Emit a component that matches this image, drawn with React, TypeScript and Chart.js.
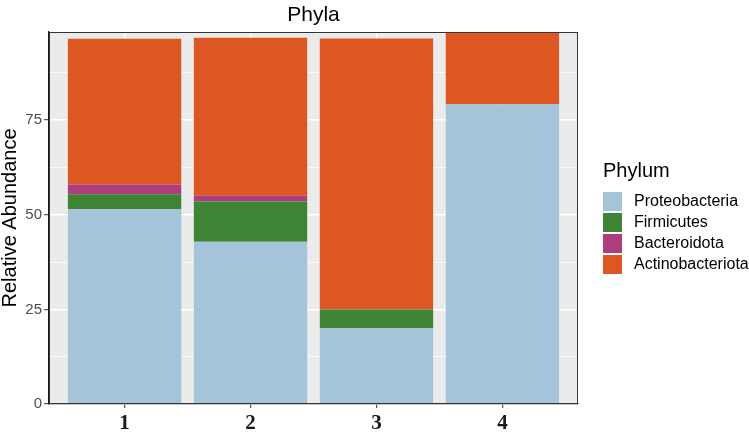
import React, { useEffect, useRef } from "react";
import { Chart, registerables } from "chart.js";

Chart.register(...registerables);

const categories = ["1", "2", "3", "4"];
const seriesNames = ["Proteobacteria", "Firmicutes", "Bacteroidota", "Actinobacteriota"];
const proteobacteria = [51.5, 42.9, 20.1, 79.2];
const firmicutes = [3.9, 10.6, 4.9, 0];
const bacteroidota = [2.6, 1.5, 0, 0];
const actinobacteriota = [38.5, 41.8, 71.6, 19.0];
const seriesColors = ["#A5C4D9", "#3D8435", "#AE3D7E", "#DC5722"];
const yMajorTicks = [0, 25, 50, 75];
const yMinorTicks = [12.5, 37.5, 62.5, 87.5];
const yMax = 98.3;
const chartTitle = "Phyla";
const yTitle = "Relative Abundance";
const legendTitle = "Phylum";

const SANS = "'Liberation Sans', Arial, sans-serif";

const panelPlugin = {
  id: "panelBg",
  beforeDraw(chart: any) {
    const { ctx, chartArea } = chart;
    ctx.save();
    ctx.fillStyle = "#EBEBEB";
    ctx.fillRect(chartArea.left, chartArea.top, chartArea.right - chartArea.left, chartArea.bottom - chartArea.top);
    ctx.restore();
  },
  afterDraw(chart: any) {
    const { ctx, chartArea } = chart;
    ctx.save();
    ctx.strokeStyle = "#333333";
    ctx.lineWidth = 1;
    ctx.strokeRect(chartArea.left + 0.5, chartArea.top + 0.5, chartArea.right - chartArea.left - 1, chartArea.bottom - chartArea.top - 1);
    ctx.fillStyle = "#000000";
    ctx.font = `21px ${SANS}`;
    ctx.textAlign = "center";
    ctx.textBaseline = "middle";
    ctx.fillText(chartTitle, (chartArea.left + chartArea.right) / 2, 15);
    const lx = 603;
    ctx.textAlign = "left";
    ctx.font = `20px ${SANS}`;
    ctx.fillText(legendTitle, lx, 171);
    ctx.font = `16px ${SANS}`;
    chart.data.datasets.forEach((ds: any, i: number) => {
      const top = 192 + i * 21;
      ctx.fillStyle = ds.backgroundColor;
      ctx.fillRect(lx, top, 19, 19);
      ctx.fillStyle = "#000000";
      ctx.fillText(ds.label, lx + 31, top + 10);
    });
    ctx.restore();
  },
};

export default function App() {
  const canvasRef = useRef<HTMLCanvasElement | null>(null);

  useEffect(() => {
    document.body.style.margin = "0";
    const values = [proteobacteria, firmicutes, bacteroidota, actinobacteriota];
    const positions = categories.map((_, j) => j + 1);
    const chart = new Chart(canvasRef.current as HTMLCanvasElement, {
      type: "bar",
      data: {
        datasets: seriesNames.map((name, i) => ({
          label: name,
          data: values[i].map((v, j) => ({ x: positions[j], y: v })),
          backgroundColor: seriesColors[i],
          borderWidth: 0,
          barPercentage: 0.9,
          categoryPercentage: 1,
        })),
      },
      options: {
        animation: false,
        responsive: false,
        maintainAspectRatio: false,
        layout: { padding: { top: 32, right: 171, left: 0, bottom: 0 } },
        plugins: {
          legend: { display: false },
          title: { display: false },
          tooltip: { enabled: false },
        },
        scales: {
          x: {
            type: "linear",
            stacked: true,
            offset: false,
            min: 0.4,
            max: positions.length + 0.6,
            afterBuildTicks: (s: any) => {
              s.ticks = positions.map((v) => ({ value: v }));
            },
            grid: {
              offset: false,
              color: "#FFFFFF",
              lineWidth: 1.4,
              tickColor: "#333333",
              tickLength: 4,
              tickWidth: 1,
            },
            border: { display: true, color: "#1a1a1a", width: 1.3 },
            ticks: {
              color: "#1a1a1a",
              font: { family: "'Liberation Serif', 'Times New Roman', serif", size: 21, weight: "bold" },
              padding: 3,
              maxRotation: 0,
              autoSkip: false,
              callback: (v: any) => categories[Number(v) - 1] ?? "",
            },
            afterFit: (s: any) => {
              s.height = 35;
            },
          },
          y: {
            stacked: true,
            min: 0,
            max: yMax,
            afterBuildTicks: (s: any) => {
              s.ticks = [...yMajorTicks, ...yMinorTicks].sort((a, b) => a - b).map((v) => ({ value: v }));
            },
            grid: {
              color: "#FFFFFF",
              lineWidth: (c: any) => (c.tick && yMajorTicks.includes(c.tick.value) ? 1.4 : 0.7),
              tickColor: (c: any) => (c.tick && yMajorTicks.includes(c.tick.value) ? "#333333" : "rgba(0,0,0,0)"),
              tickLength: 5,
              tickWidth: 1,
            },
            border: { display: true, color: "#1a1a1a", width: 1.3 },
            ticks: {
              color: "#4D4D4D",
              font: { family: SANS, size: 15 },
              padding: 2,
              callback: (v: any) => (yMajorTicks.includes(Number(v)) ? String(v) : ""),
            },
            title: {
              display: true,
              text: yTitle,
              color: "#000000",
              font: { family: SANS, size: 20, lineHeight: 1 },
              padding: { top: 0, bottom: 0 },
            },
            afterFit: (s: any) => {
              s.width = 49;
            },
          },
        },
      } as any,
      plugins: [panelPlugin],
    });
    return () => chart.destroy();
  }, []);

  return (
    <div style={{ width: 749, height: 439 }}>
      <canvas ref={canvasRef} width={749} height={439} style={{ display: "block" }} />
    </div>
  );
}
